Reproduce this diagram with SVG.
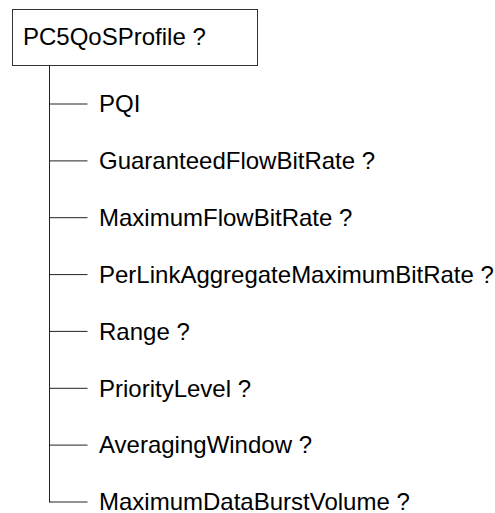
<svg xmlns="http://www.w3.org/2000/svg" width="495" height="513" viewBox="0 0 495 513">
<style>
text{font-family:"Liberation Sans",Arial,sans-serif;font-size:24px;fill:#000}
.ln{stroke:#222;stroke-width:1;fill:none}
.box{stroke:#333;stroke-width:1;fill:#fff}
</style>
<rect width="495" height="513" fill="#fff"/>
<g id="connectors">
<path class="ln" d="M49.5 65V502.5"/>
<path class="ln" d="M49.5 104H87.5M49.5 160.9H87.5M49.5 217.7H87.5M49.5 274.6H87.5M49.5 331.4H87.5M49.5 388.3H87.5M49.5 445.1H87.5M49.5 502H87.5"/>
</g>
<g id="root"><rect class="box" x="12.5" y="9.5" width="245" height="56"/><text x="23" y="45">PC5QoSProfile ?</text></g>
<g id="n1"><text x="99" y="112">PQI</text></g>
<g id="n2"><text x="99" y="169">GuaranteedFlowBitRate ?</text></g>
<g id="n3"><text x="99" y="226">MaximumFlowBitRate ?</text></g>
<g id="n4"><text x="99" y="283">PerLinkAggregateMaximumBitRate ?</text></g>
<g id="n5"><text x="99" y="339.5">Range ?</text></g>
<g id="n6"><text x="99" y="396.5">PriorityLevel ?</text></g>
<g id="n7"><text x="99" y="453">AveragingWindow ?</text></g>
<g id="n8"><text x="99" y="509.5">MaximumDataBurstVolume ?</text></g>
</svg>
